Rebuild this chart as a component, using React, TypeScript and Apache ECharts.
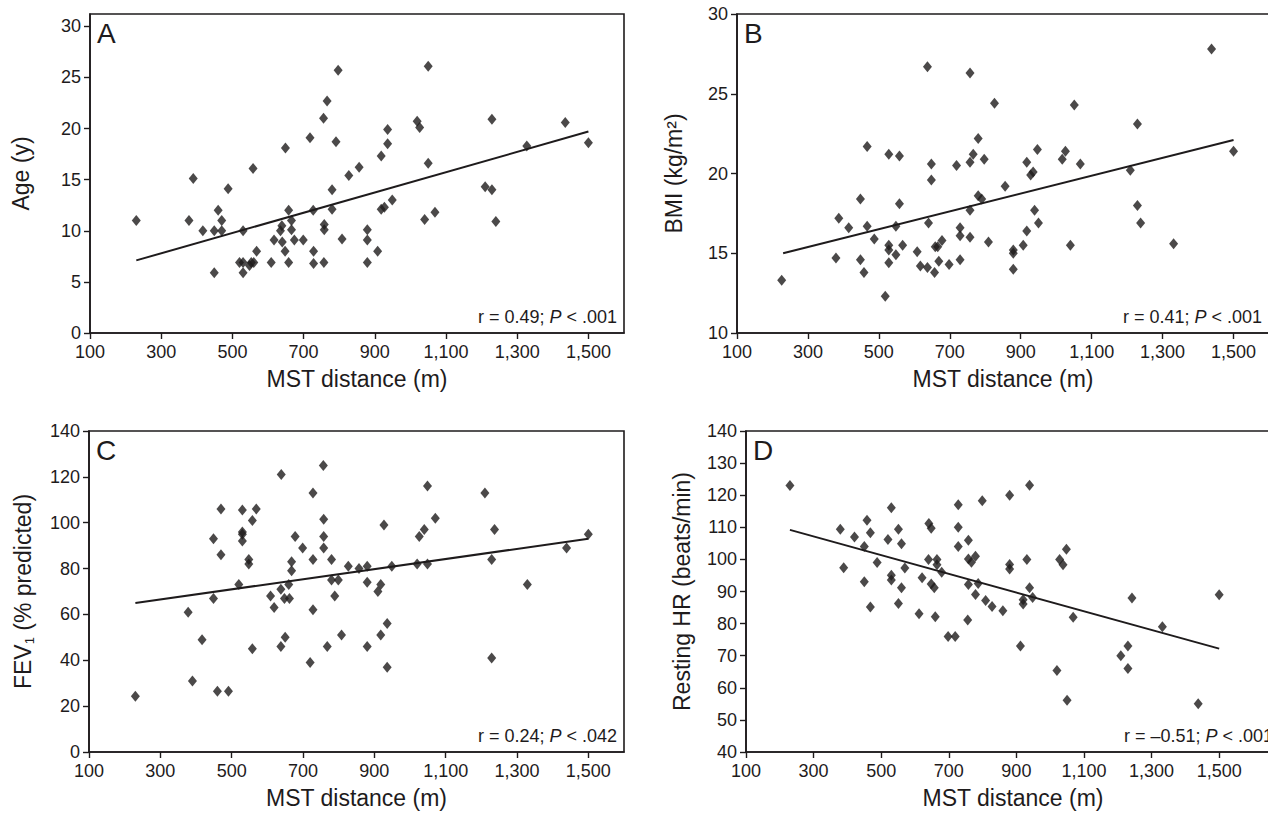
import React, { useEffect, useRef } from "react";
import * as echarts from "echarts";

// ---------- data ----------
const xTickValues = [100, 300, 500, 700, 900, 1100, 1300, 1500];

const ageX = [230, 378, 390, 417, 449, 449, 460, 470, 470, 488, 530, 520, 530, 530, 548, 553, 560, 558, 568, 609, 617, 635, 639, 640, 648, 649, 658, 658, 666, 666, 674, 699, 718, 727, 728, 728, 756, 758, 758, 757, 766, 780, 780, 791, 797, 808, 827, 856, 879, 879, 879, 908, 918, 918, 927, 936, 936, 949, 1019, 1026, 1040, 1050, 1050, 1069, 1210, 1229, 1229, 1240, 1327, 1435, 1500];
const ageY = [11.0, 11.0, 15.1, 10.0, 10.0, 5.9, 12.0, 11.0, 10.0, 14.1, 10.0, 6.9, 6.9, 5.9, 6.6, 6.9, 6.9, 16.1, 8.0, 6.9, 9.1, 10.0, 10.5, 8.9, 8.0, 18.1, 12.0, 6.9, 11.0, 10.1, 9.1, 9.1, 19.1, 12.0, 8.0, 6.8, 21.0, 10.6, 10.1, 6.9, 22.7, 14.0, 12.1, 18.7, 25.7, 9.2, 15.4, 16.2, 10.1, 9.1, 6.9, 8.0, 17.3, 12.1, 12.3, 18.5, 19.9, 13.0, 20.7, 20.1, 11.1, 26.1, 16.6, 11.8, 14.3, 20.9, 14.0, 10.9, 18.3, 20.6, 18.6];

const bmiX = [226, 379, 387, 415, 448, 448, 458, 467, 467, 487, 518, 528, 528, 528, 528, 548, 548, 558, 558, 567, 608, 617, 637, 637, 640, 648, 648, 657, 659, 666, 669, 678, 698, 719, 729, 729, 729, 757, 757, 757, 757, 766, 780, 780, 790, 797, 809, 826, 856, 879, 879, 879, 907, 917, 917, 928, 935, 939, 947, 950, 1017, 1026, 1040, 1051, 1068, 1209, 1229, 1229, 1238, 1331, 1438, 1500];
const bmiY = [13.3, 14.7, 17.2, 16.6, 18.4, 14.6, 13.8, 21.7, 16.7, 15.9, 12.3, 21.2, 15.5, 15.2, 14.4, 16.7, 14.9, 21.1, 18.1, 15.5, 15.1, 14.2, 26.7, 14.1, 16.9, 20.6, 19.6, 13.8, 15.4, 15.4, 14.5, 15.8, 14.3, 20.5, 16.6, 16.1, 14.6, 26.3, 20.7, 17.7, 16.0, 21.2, 22.2, 18.6, 18.4, 20.9, 15.7, 24.4, 19.2, 15.2, 15.0, 14.0, 15.5, 20.7, 16.4, 19.9, 20.1, 17.7, 21.5, 16.9, 20.9, 21.4, 15.5, 24.3, 20.6, 20.2, 23.1, 18.0, 16.9, 15.6, 27.8, 21.4];

const fevX = [230, 378, 390, 417, 449, 449, 460, 470, 470, 491, 520, 530, 530, 530, 530, 548, 548, 558, 558, 569, 609, 619, 639, 638, 638, 648, 650, 660, 662, 668, 668, 678, 699, 720, 728, 728, 728, 757, 758, 758, 758, 768, 780, 780, 799, 789, 808, 827, 857, 880, 880, 880, 910, 918, 918, 927, 936, 936, 949, 1020, 1026, 1040, 1049, 1049, 1071, 1210, 1229, 1229, 1237, 1329, 1439, 1500];
const fevY = [24.3, 61, 31, 49, 93, 67, 26.5, 106, 86, 26.5, 73, 105.5, 96, 95, 92, 84, 82, 101, 45, 106, 68, 63, 121, 71, 46, 67, 50, 73, 67, 83, 79, 94, 89, 39, 113, 84, 62, 125, 101.5, 94, 89, 46, 84, 75, 75, 68, 51, 81, 80, 81, 74, 46, 70, 73, 51, 99, 56, 37, 81, 82, 94, 97, 116, 82, 102, 113, 84, 41, 97, 73, 89, 95];

const hrX = [230, 379, 389, 421, 450, 450, 458, 468, 468, 488, 520, 530, 530, 530, 551, 551, 560, 560, 570, 612, 621, 640, 641, 648, 648, 657, 660, 665, 665, 679, 698, 719, 728, 728, 728, 758, 758, 758, 756, 767, 779, 779, 787, 799, 809, 828, 860, 880, 880, 880, 912, 920, 920, 931, 939, 939, 948, 1020, 1028, 1038, 1048, 1050, 1068, 1209, 1230, 1230, 1242, 1332, 1438, 1500];
const hrY = [123, 109.4, 97.4, 107, 104, 93, 112.2, 108.3, 85.2, 99, 106.2, 116.1, 95.1, 93.6, 109.4, 86.3, 104.9, 91.2, 97.3, 83.1, 94.3, 100, 111.2, 109.7, 92.3, 91.2, 82.1, 100, 98.3, 96, 76, 76, 117, 110, 104, 106, 100.1, 92.2, 81.1, 99.1, 101, 89.1, 92.5, 118.3, 87.2, 85.3, 84, 120, 98.4, 97, 73, 87.4, 86.1, 100, 123.1, 91.2, 88.1, 65.4, 100, 98.3, 103.2, 56.1, 82, 70, 73, 66, 88, 79, 55, 89];

// regression lines: [x, y] end points
const ageFit = [[230, 7.1], [1500, 19.7]];
const bmiFit = [[230, 15.0], [1500, 22.1]];
const fevFit = [[230, 65], [1500, 93]];
const hrFit = [[230, 109.2], [1500, 72.2]];

const ageTicks = [0, 5, 10, 15, 20, 25, 30];

// ---------- layout / style ----------
const INK = "#1e1b1c";
const FONT = "'Liberation Sans', Arial, Helvetica, sans-serif";

type Panel = {
  letter: string;
  grid: { left: number; top: number; width: number; height: number };
  xs: number[];
  ys: number[];
  fit: number[][];
  xMax: number;
  yMin: number;
  yMax: number;
  yInterval?: number;
  yCustom?: number[];
  yName: string;
  yNameGap: number;
  stat: string;
};

const panels: Panel[] = [
  {
    letter: "A",
    grid: { left: 90, top: 14, width: 534, height: 319 },
    xs: ageX, ys: ageY, fit: ageFit, xMax: 1600,
    yMin: 0, yMax: 31.2, yCustom: ageTicks,
    yName: "Age (y)", yNameGap: 58,
    stat: "r = 0.49; {i|P} < .001",
  },
  {
    letter: "B",
    grid: { left: 737, top: 14, width: 532, height: 319 },
    xs: bmiX, ys: bmiY, fit: bmiFit, xMax: 1600,
    yMin: 10, yMax: 30, yInterval: 5,
    yName: "BMI (kg/m\u00b2)", yNameGap: 52,
    stat: "r = 0.41; {i|P} < .001",
  },
  {
    letter: "C",
    grid: { left: 89, top: 431, width: 535, height: 321 },
    xs: fevX, ys: fevY, fit: fevFit, xMax: 1600,
    yMin: 0, yMax: 140, yInterval: 20,
    yName: "{a|FEV}{s|1}{a| (% predicted)}", yNameGap: 53,
    stat: "r = 0.24; {i|P} < .042",
  },
  {
    letter: "D",
    grid: { left: 746, top: 431, width: 534, height: 321 },
    xs: hrX, ys: hrY, fit: hrFit, xMax: 1680,
    yMin: 40, yMax: 140, yInterval: 10,
    yName: "Resting HR (beats/min)", yNameGap: 53,
    stat: "r = \u20130.51; {i|P} < .001",
  },
];

export default function App() {
  const ref = useRef<HTMLDivElement>(null);

  useEffect(() => {
    document.body.style.margin = "0";
    if (!ref.current) return;
    const chart = echarts.init(ref.current, undefined, { renderer: "svg" });

    const grids: any[] = [];
    const xAxes: any[] = [];
    const yAxes: any[] = [];
    const series: any[] = [];
    const graphics: any[] = [];

    panels.forEach((p, i) => {
      grids.push({
        ...p.grid,
        show: true,
        borderColor: INK,
        borderWidth: 1.6,
        backgroundColor: "transparent",
        containLabel: false,
        outerBoundsMode: "none",
      });
      xAxes.push({
        type: "value",
        gridIndex: i,
        min: 100,
        max: p.xMax,
        splitLine: { show: false },
        axisLine: { show: true, onZero: false, lineStyle: { color: INK, width: 1.6 } },
        axisTick: { show: true, length: 6, lineStyle: { color: INK, width: 1.4 }, customValues: xTickValues },
        axisLabel: {
          color: INK,
          fontFamily: FONT,
          fontSize: 18,
          margin: 10,
          customValues: xTickValues,
          formatter: (v: number) => v.toLocaleString("en-US"),
        },
        name: "MST distance (m)",
        nameLocation: "middle",
        nameGap: 34,
        nameTextStyle: { color: INK, fontFamily: FONT, fontSize: 23 },
      });
      const yAxis: any = {
        type: "value",
        gridIndex: i,
        min: p.yMin,
        max: p.yMax,
        splitLine: { show: false },
        axisLine: { show: true, onZero: false, lineStyle: { color: INK, width: 1.6 } },
        axisTick: { show: true, length: 6, lineStyle: { color: INK, width: 1.4 } },
        axisLabel: { color: INK, fontFamily: FONT, fontSize: 18, margin: 9 },
        name: p.yName,
        nameLocation: "middle",
        nameGap: p.yNameGap,
        nameTextStyle: {
          color: INK,
          fontFamily: FONT,
          fontSize: 23,
          rich: {
            a: { color: INK, fontFamily: FONT, fontSize: 23, lineHeight: 27 },
            s: { color: INK, fontFamily: FONT, fontSize: 13, lineHeight: 13, verticalAlign: "bottom" },
          },
        },
      };
      if (p.yInterval) yAxis.interval = p.yInterval;
      if (p.yCustom) {
        yAxis.axisTick.customValues = p.yCustom;
        yAxis.axisLabel.customValues = p.yCustom;
      }
      yAxes.push(yAxis);

      series.push({
        type: "line",
        xAxisIndex: i,
        yAxisIndex: i,
        data: p.fit,
        showSymbol: false,
        symbol: "none",
        lineStyle: { color: INK, width: 2 },
        silent: true,
        z: 2,
      });
      series.push({
        type: "scatter",
        xAxisIndex: i,
        yAxisIndex: i,
        data: p.xs.map((x, k) => [x, p.ys[k]]),
        symbol: "diamond",
        symbolSize: [9, 11],
        itemStyle: { color: INK },
        z: 3,
      });

      graphics.push({
        type: "text",
        left: p.grid.left + 7,
        top: p.grid.top + 5,
        style: { text: p.letter, fill: INK, font: `28px ${FONT}` },
      });
      graphics.push({
        type: "text",
        x: p.grid.left + p.grid.width - 7,
        y: p.grid.top + p.grid.height - 7,
        style: {
          text: p.stat,
          fill: INK,
          font: `18px ${FONT}`,
          align: "right",
          verticalAlign: "bottom",
          rich: {
            i: { fontStyle: "italic", fontFamily: FONT, fontSize: 18, fill: INK },
          },
        },
      });
    });

    chart.setOption({
      animation: false,
      backgroundColor: "#ffffff",
      grid: grids,
      xAxis: xAxes,
      yAxis: yAxes,
      series,
      graphic: graphics,
    });

    return () => chart.dispose();
  }, []);

  return (
    <div
      ref={ref}
      style={{ position: "absolute", left: 0, top: 0, width: 1268, height: 820 }}
    />
  );
}
